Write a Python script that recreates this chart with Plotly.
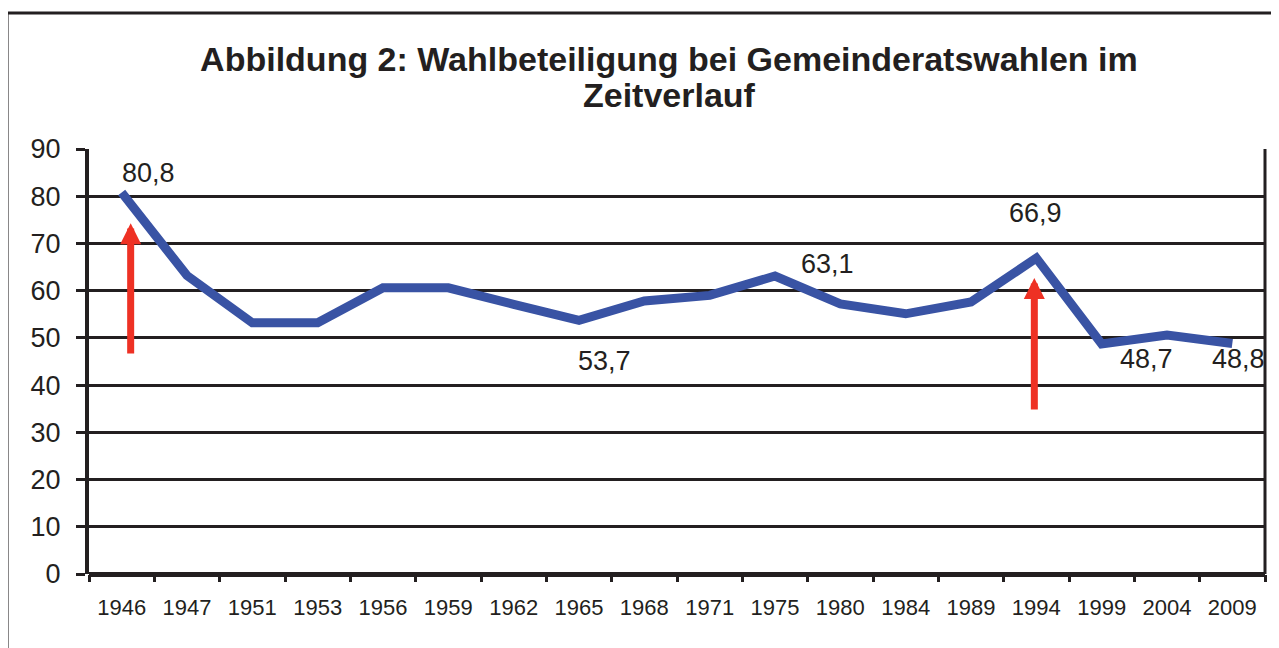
import plotly.graph_objects as go

# ---- data ----
years = ["1946", "1947", "1951", "1953", "1956", "1959", "1962", "1965", "1968",
         "1971", "1975", "1980", "1984", "1989", "1994", "1999", "2004", "2009"]
turnout = [80.8, 63.2, 53.2, 53.2, 60.6, 60.6, 57.1, 53.7, 57.8,
           59.0, 63.1, 57.2, 55.1, 57.6, 66.9, 48.7, 50.6, 48.8]
y_ticks = [0, 10, 20, 30, 40, 50, 60, 70, 80, 90]

labelled_years = ["1946", "1965", "1975", "1994", "1999", "2009"]
label_shift_x = [27, 25, 52, -1, 45, 6]
label_shift_y = [19, -41, 12, 45, -15, -15]

arrow_years = ["1946", "1994"]
arrow_from = [46.4, 34.5]
arrow_to = [74.3, 62.7]
arrow_shift_x = [9, -2]

title_line1 = "Abbildung 2: Wahlbeteiligung bei Gemeinderatswahlen im"
title_line2 = "Zeitverlauf"

FONT = "Liberation Sans, Arial, sans-serif"
INK = "#231f20"
BLUE = "#3953a4"
RED = "#ee3124"

idx = list(range(len(years)))

fig = go.Figure()
fig.add_trace(go.Scatter(
    x=idx, y=turnout, mode="lines",
    line=dict(color=BLUE, width=9),
    hoverinfo="x+y", showlegend=False,
))

annotations = []
for yr, dx, dy in zip(labelled_years, label_shift_x, label_shift_y):
    i = years.index(yr)
    annotations.append(dict(
        x=i, y=turnout[i], xref="x", yref="y",
        text=f"{turnout[i]:.1f}".replace(".", ","),
        showarrow=False, xshift=dx, yshift=dy,
        font=dict(family=FONT, size=27, color=INK),
    ))

for yr, y0, y1, dx in zip(arrow_years, arrow_from, arrow_to, arrow_shift_x):
    i = years.index(yr)
    annotations.append(dict(
        x=i, y=y1, ax=i, ay=y0, xref="x", yref="y", axref="x", ayref="y",
        text="", showarrow=True, arrowhead=2, arrowsize=0.6, arrowwidth=7,
        arrowcolor=RED, standoff=0, startstandoff=0, xshift=dx,
    ))

annotations.append(dict(
    x=0.4932, y=1.126, xref="paper", yref="paper",
    text=title_line2, showarrow=False, xanchor="center", yanchor="middle",
    font=dict(family=FONT, size=34, color=INK, weight="bold"),
))

shapes = [
    # outer frame
    dict(type="rect", xref="paper", yref="paper",
         x0=-0.0697, x1=1.0085, y0=-0.25, y1=1.32,
         line=dict(color=INK, width=3), layer="below"),
    # right border of plot area
    dict(type="line", xref="paper", yref="paper",
         x0=1, x1=1, y0=0, y1=1, line=dict(color=INK, width=3)),
]

fig.update_layout(
    width=1271, height=640,
    margin=dict(l=81, r=14, t=141, b=74),
    paper_bgcolor="white", plot_bgcolor="white",
    title=dict(text=title_line1, x=0.520, xanchor="center",
               y=1 - 51.5 / 640, yanchor="middle", yref="container",
               font=dict(family=FONT, size=34, color=INK, weight="bold")),
    font=dict(family=FONT, color=INK),
    annotations=annotations,
    shapes=shapes,
    xaxis=dict(
        range=[-0.5, len(years) - 0.5],
        tickmode="array", tickvals=idx, ticktext=years,
        ticks="", showgrid=False, zeroline=False,
        showline=False,
        tickfont=dict(family=FONT, size=22, color=INK),
        ticklabelstandoff=18,
        minor=dict(tickmode="array",
                   tickvals=[i - 0.5 for i in range(len(years) + 1)],
                   ticks="outside", ticklen=7, tickwidth=3, tickcolor=INK,
                   showgrid=False),
    ),
    yaxis=dict(
        range=[0, 90], tickmode="array", tickvals=y_ticks,
        showgrid=True, gridcolor=INK, gridwidth=3,
        zeroline=True, zerolinecolor=INK, zerolinewidth=5,
        showline=True, linecolor=INK, linewidth=4,
        ticks="outside", ticklen=9, tickwidth=3, tickcolor=INK,
        tickfont=dict(family=FONT, size=27, color=INK),
        ticklabelstandoff=10,
    ),
)

fig.write_html("out.html")
